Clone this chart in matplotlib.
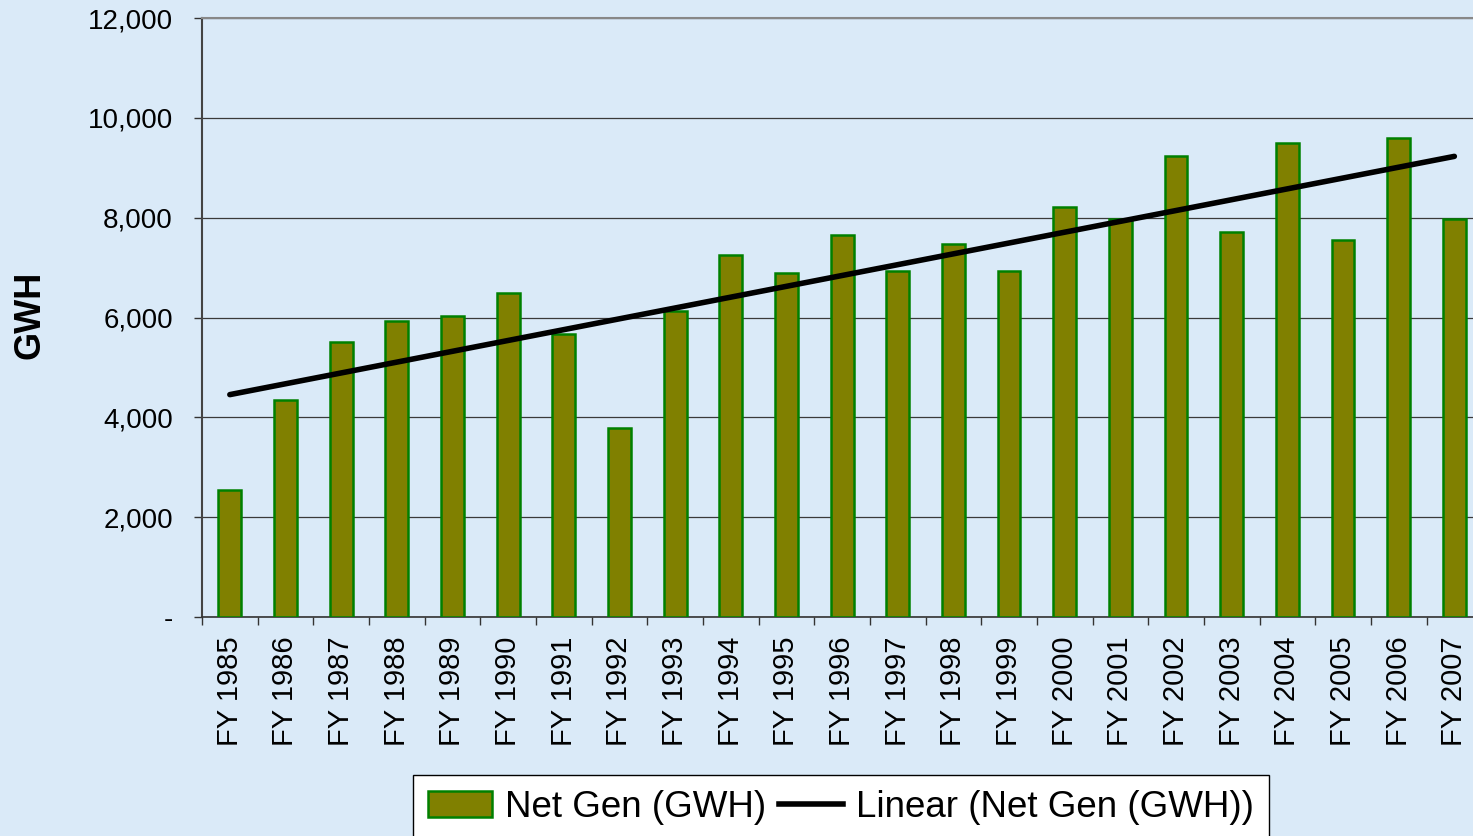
import numpy as np
import matplotlib
matplotlib.use("Agg")
import matplotlib.pyplot as plt
from matplotlib.patches import Patch
from matplotlib.lines import Line2D
from matplotlib.ticker import FuncFormatter

categories = ["FY 1985", "FY 1986", "FY 1987", "FY 1988", "FY 1989", "FY 1990",
              "FY 1991", "FY 1992", "FY 1993", "FY 1994", "FY 1995", "FY 1996",
              "FY 1997", "FY 1998", "FY 1999", "FY 2000", "FY 2001", "FY 2002",
              "FY 2003", "FY 2004", "FY 2005", "FY 2006", "FY 2007"]
net_gen = [2550, 4350, 5510, 5930, 6030, 6490, 5670, 3790, 6130, 7250, 6890, 7655,
           6930, 7475, 6930, 8215, 7975, 9240, 7715, 9500, 7555, 9600, 7975]
y_ticks = [0, 2000, 4000, 6000, 8000, 10000, 12000]

plt.rcParams['font.family'] = ['Liberation Sans', 'DejaVu Sans']

bg = '#DAEAF8'
W, H = 1473, 836
fig = plt.figure(figsize=(W / 100, H / 100), dpi=100, facecolor=bg)
ax = fig.add_axes([202 / W, 1 - 617 / H, 23 * 55.66 / W, (617 - 18) / H])
ax.set_facecolor(bg)

x = np.arange(len(categories))
ax.bar(x, net_gen, width=0.41, color='#808000', edgecolor='#008000', linewidth=1.8, zorder=3)

coef = np.polyfit(x, net_gen, 1)
trend = np.polyval(coef, x)
ax.plot(x, trend, color='black', linewidth=4, solid_capstyle='round', zorder=4)

ax.set_xlim(-0.5, len(categories) - 0.5)
ax.set_ylim(0, 12000)
ax.set_yticks(y_ticks)
ax.yaxis.set_major_formatter(FuncFormatter(lambda v, p: '-' if v == 0 else f'{int(v):,}'))
ax.grid(axis='y', color='#3a3a3a', linewidth=0.9, zorder=1)
ax.set_axisbelow(True)

ax.set_xticks(x)
ax.set_xticklabels(categories, rotation=90)
ax.set_xticks(np.arange(-0.5, len(categories) + 0.5, 1), minor=True)
ax.tick_params(axis='x', which='major', length=0, pad=14, labelsize=21)
ax.tick_params(axis='x', which='minor', length=6, width=1, color='#333333', direction='out')
ax.tick_params(axis='y', length=6, width=1, color='#333333', pad=15, labelsize=20)

ax.spines['right'].set_visible(False)
ax.spines['top'].set_color('#888888')
ax.spines['top'].set_linewidth(1.5)
ax.spines['left'].set_color('#444444')
ax.spines['left'].set_linewidth(1.5)
ax.spines['bottom'].set_color('#333333')
ax.spines['bottom'].set_linewidth(1.2)

fig.text(30 / W, 1 - 315 / H, 'GWH', rotation=90, fontsize=26, fontweight='bold',
         ha='center', va='center')

handles = [Patch(facecolor='#808000', edgecolor='#008000', linewidth=1.8),
           Line2D([0], [0], color='black', linewidth=4)]
leg = fig.legend(handles, ['Net Gen (GWH)', 'Linear (Net Gen (GWH))'],
                 loc='upper left', bbox_to_anchor=(413 / W, 1 - 775 / H),
                 ncol=2, fontsize=26.5, frameon=True, fancybox=False,
                 edgecolor='black', facecolor='white', framealpha=1,
                 handlelength=1.75, handletextpad=0.35, columnspacing=0.35,
                 borderpad=0.4, borderaxespad=0)
leg.get_frame().set_linewidth(1.0)

fig.savefig('out.png', dpi=100, facecolor=bg)
